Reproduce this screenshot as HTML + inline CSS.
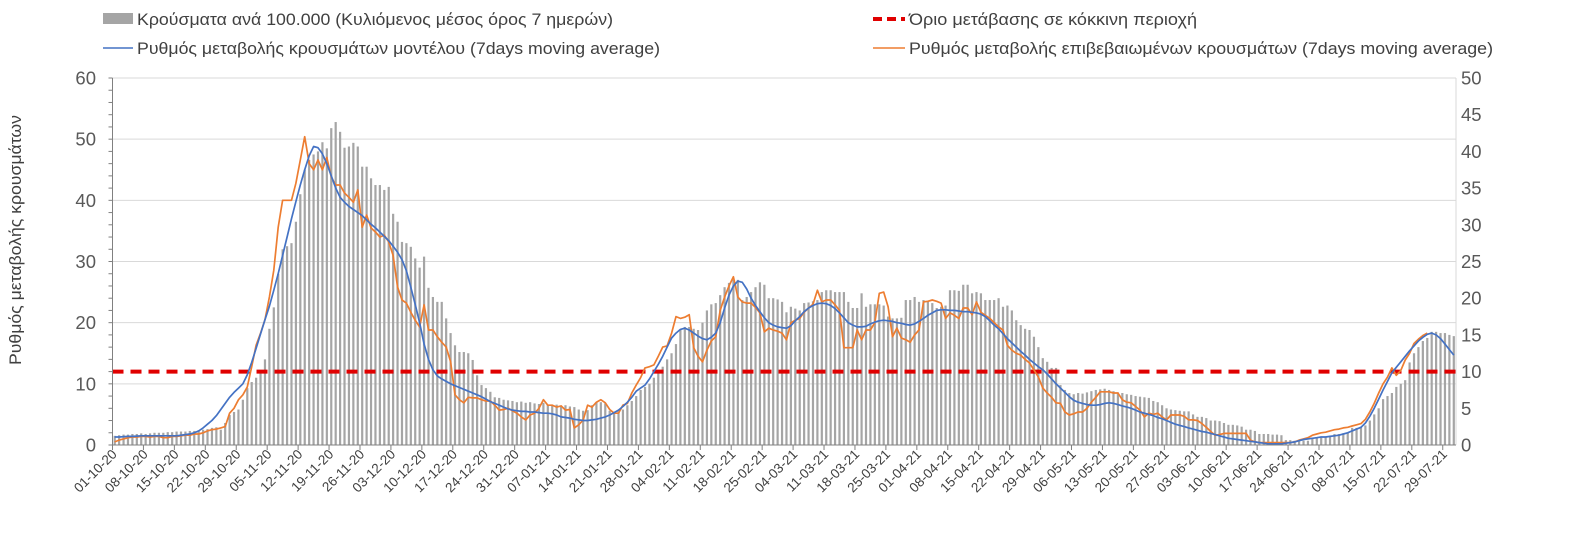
<!DOCTYPE html>
<html><head><meta charset="utf-8">
<style>
html,body{margin:0;padding:0;background:#fff;}
svg{display:block;font-family:"Liberation Sans",sans-serif;}
</style></head>
<body>
<svg id="chart" width="1583" height="534" viewBox="0 0 1583 534" xmlns="http://www.w3.org/2000/svg">
  <g font-size="17" fill="#404040">
    <g>
      <rect x="103" y="13" width="30" height="11" fill="#a5a5a5"/>
      <text x="137" y="25" textLength="476" lengthAdjust="spacingAndGlyphs">Κρούσματα ανά 100.000 (Κυλιόμενος μέσος όρος 7 ημερών)</text>
    </g>
    <g>
      <line x1="103" y1="48" x2="133" y2="48" stroke="#4472c4" stroke-width="1.5"/>
      <text x="137" y="54" textLength="523" lengthAdjust="spacingAndGlyphs">Ρυθμός μεταβολής κρουσμάτων μοντέλου (7days moving average)</text>
    </g>
    <g>
      <line x1="873" y1="19" x2="905" y2="19" stroke="#e00000" stroke-width="4" stroke-dasharray="9,5"/>
      <text x="909" y="25" textLength="288" lengthAdjust="spacingAndGlyphs">Όριο μετάβασης σε κόκκινη περιοχή</text>
    </g>
    <g>
      <line x1="873" y1="48" x2="905" y2="48" stroke="#ed7d31" stroke-width="1.5"/>
      <text x="909" y="54" textLength="584" lengthAdjust="spacingAndGlyphs">Ρυθμός μεταβολής επιβεβαιωμένων κρουσμάτων (7days moving average)</text>
    </g>
  </g>
  <text transform="translate(21,240) rotate(-90)" text-anchor="middle" font-size="17" fill="#404040" textLength="250" lengthAdjust="spacingAndGlyphs">Ρυθμός μεταβολής κρουσμάτων</text>
  <g id="grid"></g>
  <g id="bars"></g>
  <g id="lines"></g>
  <g id="axes"></g>
</svg>
<script>
const bars = [
1.5,1.6,1.7,1.7,1.8,1.8,1.9,1.8,1.9,2.0,
2.0,2.0,2.1,2.1,2.2,2.2,2.2,2.3,2.3,2.4,
2.5,2.6,2.8,2.9,2.5,3.6,4.9,5.4,5.8,7.4,
9.3,10.3,11.0,12.0,14.0,19.0,22.5,28.0,32.0,32.5,
33,36.5,41,45,46.6,47.5,48,49.5,48.5,51.8,
52.8,51.2,48.6,48.8,49.4,48.8,45.5,45.5,43.6,42.5,
42.5,41.7,42.2,37.8,36.5,33.2,33,32.4,30.5,29,
30.8,25.7,24.2,23.4,23.4,20.7,18.3,16.3,15.2,15.2,
15,13.9,11.4,9.8,9.3,8.7,7.8,7.7,7.4,7.3,
7.2,7.0,7.1,6.9,7.0,6.8,6.7,6.9,6.6,6.5,
6.6,6.4,6.5,6.3,6.2,5.8,5.6,5.7,6.5,7.0,
7.0,6.8,5.6,5.4,5.5,5.8,6.5,7.2,8.0,9.0,
9.5,10,11,12,12.8,14,15,16.5,18.8,19.3,
19.3,19.0,18.8,20,22,23,23.2,24.5,25.8,26.5,
27,27,23.7,24.2,25,25.8,26.6,26.2,24,24,
23.8,23.4,21.7,22.6,22.3,22,23.2,23.3,23.5,23.7,
25,25.3,25.3,25,25,25,23.4,22.4,22.4,24.8,
22.6,23,23,23,22.8,21,20.7,20.7,20.8,23.7,
23.7,24.2,23.4,23.7,23.6,23.2,22.4,22.6,22.8,25.3,
25.3,25.2,26.2,26.2,24.8,25,24.8,23.7,23.7,23.7,
24,22.6,22.8,22,20.4,19.6,19,18.8,17.7,16,
14.2,13.6,12.6,12.6,9.8,9,8.5,8.3,8.5,8.4,
8.6,8.8,9.0,9.1,9.2,9.0,8.8,8.6,8.5,8.3,
8.2,8.0,7.9,7.8,7.7,7.2,7.0,6.5,6.0,5.8,
5.7,5.6,5.5,5.5,5.0,4.6,4.6,4.4,4.0,4.0,
3.9,3.6,3.3,3.3,3.2,3.0,2.5,2.5,2.3,1.8,
1.8,1.8,1.7,1.7,1.6,0.8,0.8,0.7,0.7,0.7,
0.7,1.2,1.2,1.2,1.3,1.4,1.8,1.8,1.9,2.0,
2.8,2.8,3.0,3.2,4.0,5.0,6.0,7.5,8.0,8.5,
9.5,10.0,10.6,13.5,15,16,17,17.5,18.5,18.5,
18.3,18.3,18.0,17.8];
const modelRate = [
1.3,1.3,1.35,1.4,1.4,1.45,1.5,1.5,1.5,1.5,
1.5,1.5,1.5,1.5,1.5,1.6,1.7,1.8,2.0,2.3,
2.8,3.4,4.0,4.8,5.8,6.8,7.8,8.6,9.3,10.0,
11.5,13.5,15.8,18.2,20.5,22.7,25.3,28.0,31.0,34.0,
37.0,39.8,42.5,45.0,47.3,48.8,48.6,47.6,46.0,44.0,
42.0,40.5,39.7,39.0,38.5,38.0,37.5,36.8,36.1,35.5,
34.8,34.1,33.4,32.5,31.5,30.3,28.5,25.8,23.0,20.0,
16.5,14.0,12.3,11.3,10.8,10.4,10.0,9.7,9.4,9.1,
8.8,8.5,8.2,7.9,7.5,7.1,6.8,6.5,6.2,5.9,
5.7,5.6,5.5,5.5,5.4,5.4,5.3,5.2,5.2,5.1,
4.9,4.6,4.5,4.4,4.2,4.1,4.0,4.0,4.1,4.2,
4.4,4.6,4.9,5.3,5.7,6.3,7.0,7.8,8.8,9.3,
9.8,10.8,12.0,13.2,14.5,16.0,17.5,18.3,18.9,19.1,
18.8,18.3,17.8,17.4,17.2,17.6,18.3,20.0,22.4,24.5,
26.0,26.8,26.6,25.5,24.0,22.8,21.8,20.8,20.0,19.6,
19.3,19.2,19.1,19.5,20.3,21.0,21.8,22.4,22.8,23.1,
23.2,23.1,22.8,22.3,21.6,20.8,20.0,19.6,19.3,19.3,
19.4,19.8,20.1,20.3,20.4,20.3,20.2,20.0,19.9,19.7,
19.6,19.8,20.2,20.7,21.2,21.6,22.0,22.1,22.1,22.0,
22.0,21.9,21.8,21.8,21.7,21.6,21.4,21.0,20.3,19.6,
19.0,18.2,17.4,16.7,16.0,15.3,14.7,14.0,13.4,12.8,
12.3,11.6,10.8,10.0,9.3,8.6,7.9,7.3,7.0,6.8,
6.6,6.5,6.5,6.6,6.8,6.9,6.8,6.6,6.4,6.2,
6.0,5.7,5.4,5.2,5.0,4.8,4.5,4.3,4.0,3.7,
3.4,3.2,3.0,2.8,2.6,2.4,2.2,2.1,1.9,1.7,
1.5,1.3,1.1,1.0,0.9,0.8,0.7,0.6,0.5,0.4,
0.3,0.2,0.2,0.2,0.2,0.3,0.4,0.5,0.7,0.9,
1.0,1.1,1.2,1.3,1.3,1.4,1.5,1.6,1.8,2.0,
2.3,2.6,2.9,3.6,4.7,6.0,7.5,9.0,10.4,11.8,
12.7,13.6,14.5,15.4,16.2,17.0,17.6,18.1,18.3,18.0,
17.4,16.5,15.6,14.7];
const confirmedRate = [
0.5,0.8,1.0,1.2,1.3,1.3,1.4,1.4,1.3,1.4,
1.4,1.2,1.2,1.4,1.4,1.5,1.6,1.6,1.8,1.8,
2.0,2.3,2.5,2.6,2.8,3.0,5.2,6.0,7.4,8.2,
9.5,12.8,16.3,18.3,20.5,24.2,28.6,35.6,40.0,40.0,
40.0,42.8,46.6,50.4,46.0,45.0,46.6,45.0,47.0,43.8,
42.5,42.5,41.2,40.5,39.7,41.7,35.6,37.6,35.5,34.8,
34.0,34.3,33.2,31.0,25.8,23.7,23.2,21.7,20.4,19.3,
22.9,18.8,18.8,17.7,16.8,16.0,13.6,8.2,7.4,6.9,
7.8,7.7,7.7,7.4,7.2,7.2,6.5,5.7,5.8,6.0,
5.6,5.2,4.6,4.1,4.9,5.2,6.0,7.4,6.5,6.5,
6.2,6.4,5.7,5.8,2.8,3.3,4.1,6.5,6.2,7.0,
7.4,6.9,5.8,5.2,5.2,6.5,6.8,8.5,9.8,11.0,
12.6,12.8,13.1,14.5,16.0,16.2,18.3,21.0,20.7,20.9,
21.3,15.9,14.5,13.6,15.5,17.0,17.7,22.0,24.2,26.0,
27.5,24.2,23.4,23.2,23.2,22.5,21.6,18.5,19.1,18.8,
18.6,18.3,17.2,20.0,20.4,20.7,21.7,22.4,23.0,25.3,
23.4,23.7,23.7,22.9,22.0,15.9,15.9,15.9,18.8,17.2,
18.8,18.8,20.0,24.8,25.0,22.6,17.7,19.1,17.5,17.2,
16.8,18.0,18.8,23.4,23.5,23.7,23.5,23.2,20.7,21.6,
21.2,20.7,22.4,22.4,21.3,23.4,21.7,21.2,20.7,20.0,
19.3,18.8,16.3,15.5,15.0,14.7,14.0,13.4,12.3,11.1,
9.3,8.5,7.8,6.9,6.8,5.4,4.9,5.1,5.4,5.4,
6.0,7.0,7.8,8.7,8.7,8.7,8.5,8.5,7.4,7.0,
6.9,6.3,5.7,4.6,5.2,5.0,5.2,4.6,4.1,4.9,
4.9,4.9,4.7,4.1,4.1,4.0,3.5,2.9,2.2,1.6,
1.7,1.9,1.9,1.9,1.9,1.9,1.9,0.8,0.5,0.4,
0.4,0.4,0.4,0.4,0.4,0.4,0.4,0.5,0.8,1.0,
1.2,1.6,1.8,2.0,2.1,2.3,2.5,2.6,2.8,2.9,
3.1,3.3,3.5,4.2,5.4,6.8,8.5,10.0,11.1,12.6,
11.4,12.2,13.9,15.0,16.6,17.3,17.9,18.3];
const redThreshold = 12;
const leftTicks = [0,10,20,30,40,50,60];
const rightTicks = [0,5,10,15,20,25,30,35,40,45,50];
const startDate = [2020, 9, 1];

const NS = "http://www.w3.org/2000/svg";
const X0 = 112.5, X1 = 1456, Y0 = 445, Y1 = 78;
const N = bars.length;
const band = (X1 - X0) / N;
const xc = i => X0 + (i + 0.5) * band;
const yL = v => Y0 - (v / 60) * (Y0 - Y1);
const yR = v => Y0 - (v / 50) * (Y0 - Y1);
function mk(tag, attrs, parent) {
  const e = document.createElementNS(NS, tag);
  for (const k in attrs) e.setAttribute(k, attrs[k]);
  parent.appendChild(e);
  return e;
}
const grid = document.getElementById('grid');
const barsG = document.getElementById('bars');
const linesG = document.getElementById('lines');
const axes = document.getElementById('axes');

leftTicks.forEach(v => {
  if (v > 0) {
    const g = mk('line', {x1: X0, x2: X1, y1: yL(v), y2: yL(v), stroke: '#d9d9d9', 'stroke-width': 1}, grid);
    
    
  }
  const t = mk('text', {x: 96, y: yL(v) + 6.5, 'text-anchor': 'end', 'font-size': 18.5, fill: '#595959'}, axes);
  
  
  t.textContent = v;
});
for (let v = 0; v <= 60; v += 2) {
  mk('line', {x1: X0 - 4, x2: X0, y1: yL(v), y2: yL(v), stroke: '#808080', 'stroke-width': 1}, axes);
}
rightTicks.forEach(v => {
  const t = mk('text', {x: X1 + 5, y: yR(v) + 6.5, 'font-size': 18.5, fill: '#595959'}, axes);
  
  
  t.textContent = v;
});

bars.forEach((v, i) => {
  const r = mk('rect', {x: xc(i) - 1.1, y: yL(v), width: 2.2, height: Y0 - yL(v), fill: '#a5a5a5'}, barsG);
  
  
});

const th = mk('line', {x1: X0, x2: X1, y1: yL(redThreshold), y2: yL(redThreshold), stroke: '#e00000', 'stroke-width': 4, 'stroke-dasharray': '11,7'}, linesG);



function path(arr, color, name) {
  const d = arr.map((v, i) => (i ? 'L' : 'M') + xc(i).toFixed(1) + ',' + yL(v).toFixed(1)).join('');
  const p = mk('path', {d: d, fill: 'none', stroke: color, 'stroke-width': 1.7, 'stroke-linejoin': 'round'}, linesG);
  
  
}
path(confirmedRate, '#ed7d31', 'confirmed-rate-line');
path(modelRate, '#4472c4', 'model-rate-line');

const la = mk('line', {x1: X0, x2: X0, y1: Y1, y2: Y0, stroke: '#808080', 'stroke-width': 1}, axes);


const ra = mk('line', {x1: X1, x2: X1, y1: Y1, y2: Y0, stroke: '#d9d9d9', 'stroke-width': 1}, axes);


const xa = mk('line', {x1: X0, x2: X1, y1: Y0, y2: Y0, stroke: '#808080', 'stroke-width': 1}, axes);



const pad = n => (n < 10 ? '0' : '') + n;
for (let i = 0; i < N; i += 7) {
  const tx = X0 + i * band;
  mk('line', {x1: tx, x2: tx, y1: Y0, y2: Y0 + 5, stroke: '#808080', 'stroke-width': 1}, axes);
  const d = new Date(startDate[0], startDate[1], startDate[2] + i);
  const lab = pad(d.getDate()) + '-' + pad(d.getMonth() + 1) + '-' + String(d.getFullYear()).slice(2);
  const cx = xc(i) + 3, cy = 455;
  const t = mk('text', {x: cx, y: cy, 'text-anchor': 'end', 'font-size': 13.5, fill: '#404040', transform: 'rotate(-45 ' + cx + ' ' + cy + ')'}, axes);
  
  
  t.textContent = lab;
}
</script>
</body></html>
